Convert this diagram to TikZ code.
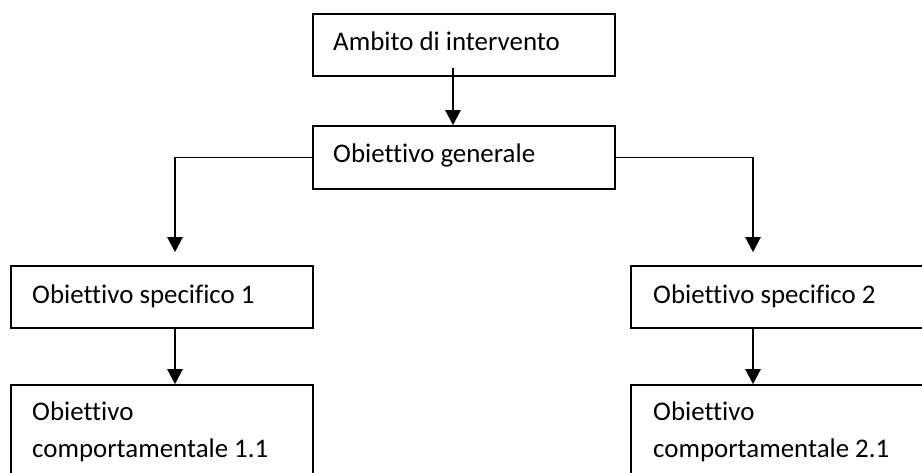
\documentclass[tikz,border=0pt]{standalone}
\usepackage{fontspec}
\setmainfont{Carlito}[Ligatures=NoCommon]
\usetikzlibrary{arrows.meta,calc}
\begin{document}
\begin{tikzpicture}[x=1pt,y=-1pt,
  box/.style={draw=black,line width=1.6pt,minimum width=302pt,inner sep=0pt,fill=none},
  lbl/.style={anchor=base west,inner sep=0pt,font=\fontsize{26.9}{37}\selectfont},
  conn/.style={line width=1.6pt},
  arr/.style={line width=2.2pt,-{Triangle[length=15pt,width=15pt]}}]
\useasboundingbox (0,0) rectangle (922,472);
\fill[white] (0,0) rectangle (922,472);
\clip (0,0) rectangle (922,472);
% boxes
\node[box,minimum height=62pt] (amb) at (464,45) {};
\node[box,minimum height=63pt] (gen) at (464,157.5) {};
\node[box,minimum height=62pt] (s1) at (162,297) {};
\node[box,minimum height=62pt,minimum width=340pt] (s2) at (801,297) {};
\node[box,minimum height=110pt] (c1) at (162,440) {};
\node[box,minimum height=110pt,minimum width=340pt] (c2) at (801,440) {};
% texts
\node[lbl] (tamb) at (333,50) {Ambito di intervento};
\node[lbl] (tgen) at (333,162) {Obiettivo generale};
\node[lbl] (ts1) at (32,303) {Obiettivo specifico 1};
\node[lbl] (ts2) at (653,303) {Obiettivo specifico 2};
\node[lbl] (tc1a) at (32,420) {Obiettivo};
\node[lbl] (tc1b) at (32,457) {comportamentale 1.1};
\node[lbl] (tc2a) at (653,420) {Obiettivo};
\node[lbl] (tc2b) at (653,457) {comportamentale 2.1};
% bend points
\coordinate (k1) at ([xshift=13pt]gen.west -| s1.north);
\coordinate (k2) at ([xshift=-48pt]gen.east -| s2.north);
% connectors
\draw[arr] ([xshift=-11pt,yshift=9pt]amb.south) -- ([xshift=-11pt]gen.north);
\draw[conn] (gen.west) -- ([xshift=-1.1pt]k1);
\draw[arr] ([yshift=0.8pt]k1) -- ([xshift=13pt,yshift=13pt]s1.north);
\draw[conn] (gen.east) -- ([xshift=1.1pt]k2);
\draw[arr] ([yshift=0.8pt]k2) -- ([xshift=-48pt,yshift=13pt]s2.north);
\draw[arr] ([xshift=13pt]s1.south) -- ([xshift=13pt]c1.north);
\draw[arr] ([xshift=-48pt]s2.south) -- ([xshift=-48pt]c2.north);
\end{tikzpicture}
\end{document}
